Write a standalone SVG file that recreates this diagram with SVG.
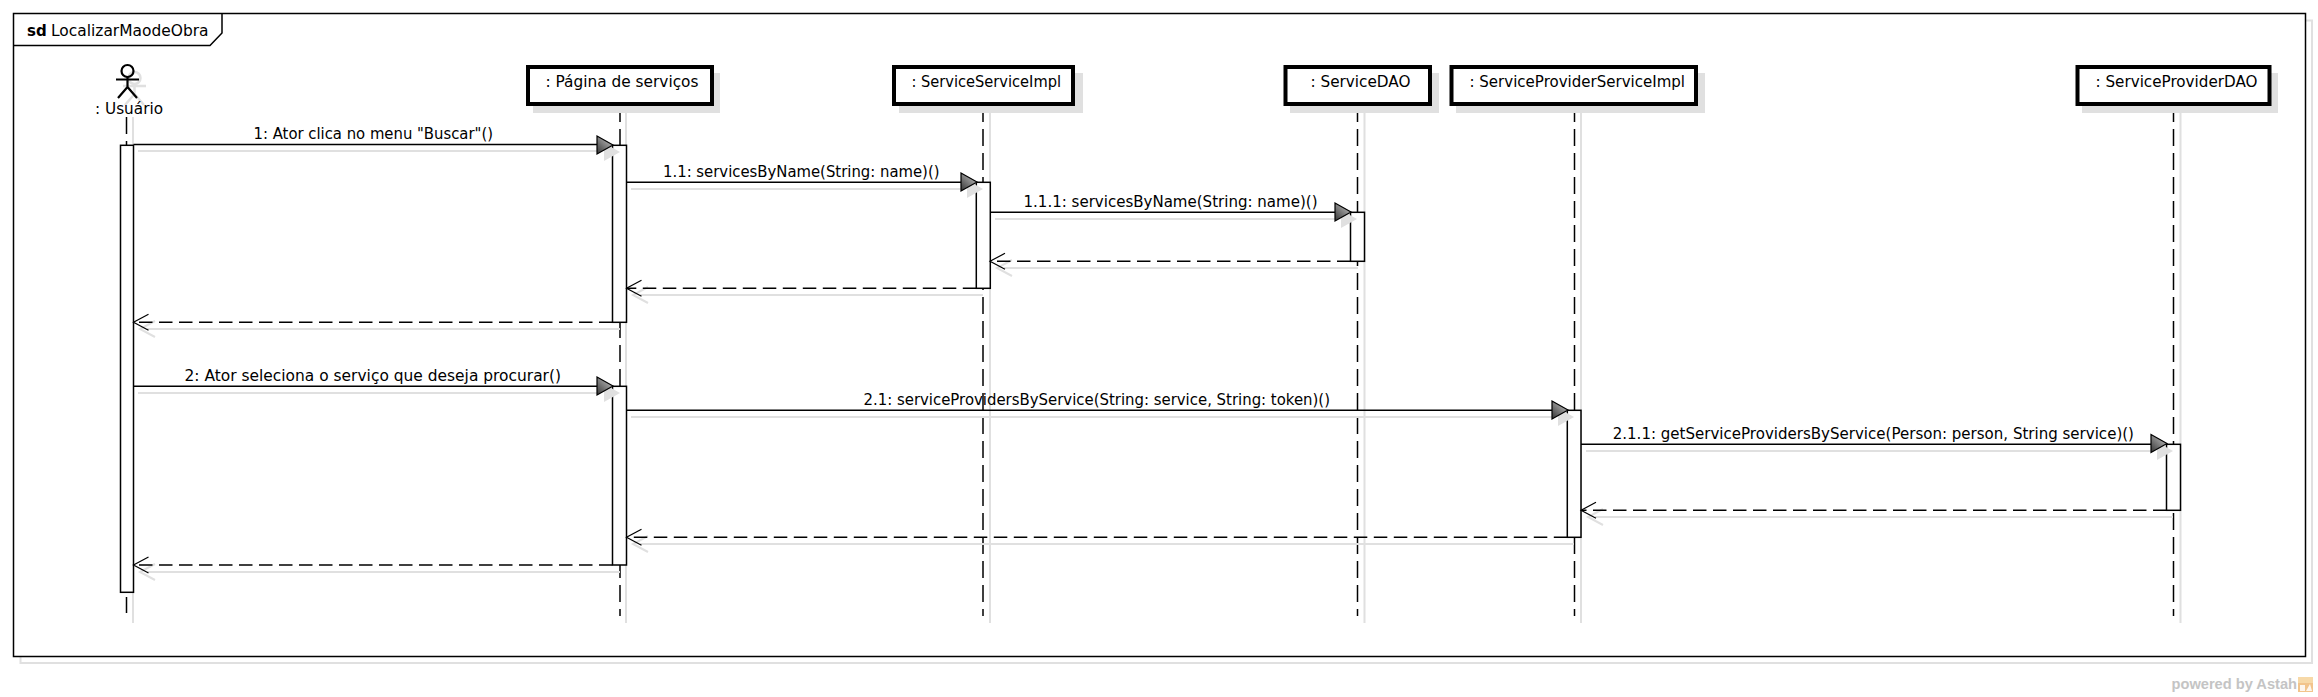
<svg xmlns="http://www.w3.org/2000/svg" width="2318" height="697" viewBox="0 0 2318 697">
<style>
text{font-family:"DejaVu Sans","Liberation Sans",sans-serif;font-size:15px;fill:#000}
.f{fill:#fff;stroke:#000;stroke-width:1.5}
.s{fill:none;stroke:#e0e0e0;stroke-width:2}
.sf{fill:#e0e0e0;stroke:none}
.n{fill:#fff;stroke:#000;stroke-width:4}
.ll{fill:none;stroke:#000;stroke-width:1.5;stroke-dasharray:17 7}
.m{fill:none;stroke:#000;stroke-width:1.5}
.r{fill:none;stroke:#000;stroke-width:1.5;stroke-dasharray:13.5 6.5}
.a{fill:url(#g);stroke:#000;stroke-width:1.2}
.o{fill:none;stroke:#000;stroke-width:1.2}
</style>
<defs><linearGradient id="g" x1="0.8" y1="0.1" x2="0.1" y2="0.9"><stop offset="0" stop-color="#b8b8b8"/><stop offset="1" stop-color="#444"/></linearGradient>
<path id="ta" d="M-16-9 0 0-16 9Z"/><path id="oa" d="M15-8 0 0 15 8"/></defs>
<rect width="2318" height="697" fill="#fff"/>
<g id="frame">
<rect class="s" x="20.500" y="20.500" width="2291.500" height="642.500"/>
<rect x="13.500" y="13.500" width="2292" height="643" fill="#fff" stroke="#000" stroke-width="1.500"/>
<path d="M13.500 45.500H210L222 33V13.500" class="m"/>
<text x="27" y="35.500" font-weight="bold">sd</text>
<text x="51" y="35.500" textLength="157.500" lengthAdjust="spacingAndGlyphs">LocalizarMaodeObra</text>
</g>
<g id="shadows">
<path class="s" d="M133 117V623M626 113V623M990 113V623M1364.500 113V623M1581 113V623M2180.500 113V623"/>
</g>
<g id="lifelines">
<path class="ll" d="M126.500 117V613"/><path class="ll" d="M620 105V616"/><path class="ll" d="M983 105V616"/><path class="ll" d="M1357.500 105V616"/><path class="ll" d="M1574.500 105V616"/><path class="ll" d="M2173.500 105V616"/>
</g>
<g id="node-usuario">
<g fill="none" stroke="#e0e0e0" stroke-width="2.500"><circle cx="134.500" cy="78" r="6"/><path d="M134.500 84V94M123 86H146M134.500 94 125 105M134.500 94 144 105"/></g>
<g fill="none" stroke="#000" stroke-width="2.200"><circle cx="127.500" cy="71" r="6"/><path d="M127.500 77V87M116 79.500H139M127.500 87 118 98M127.500 87 137 98"/></g>
<text x="95" y="114" textLength="68" lengthAdjust="spacingAndGlyphs">: Usuário</text>
<rect class="f" x="120.500" y="145.300" width="13" height="447"/>
</g>
<g id="node-pagina">
<rect class="sf" x="533" y="73" width="187" height="40"/><rect class="n" x="528" y="67" width="184" height="37"/>
<text x="545.500" y="86.500" textLength="153" lengthAdjust="spacingAndGlyphs">: Página de serviços</text>
<rect class="f" x="612.500" y="145.300" width="14" height="177"/><rect class="f" x="612.500" y="386.300" width="14" height="178.700"/>
</g>
<g id="node-serviceserviceimpl">
<rect class="sf" x="899" y="73" width="184" height="40"/><rect class="n" x="894" y="67" width="179" height="37"/>
<text x="911.500" y="86.500" textLength="149.500" lengthAdjust="spacingAndGlyphs">: ServiceServiceImpl</text>
<rect class="f" x="976.300" y="182.300" width="14" height="106"/>
</g>
<g id="node-servicedao">
<rect class="sf" x="1290" y="73" width="149" height="40"/><rect class="n" x="1285.500" y="67" width="144.500" height="37"/>
<text x="1310.500" y="86.500" textLength="100" lengthAdjust="spacingAndGlyphs">: ServiceDAO</text>
<rect class="f" x="1350.500" y="212.300" width="14" height="49"/>
</g>
<g id="node-serviceproviderserviceimpl">
<rect class="sf" x="1456" y="73" width="249" height="40"/><rect class="n" x="1451.500" y="67" width="244.500" height="37"/>
<text x="1469.500" y="86.500" textLength="215.500" lengthAdjust="spacingAndGlyphs">: ServiceProviderServiceImpl</text>
<rect class="f" x="1567.300" y="410.300" width="13.700" height="127"/>
</g>
<g id="node-serviceproviderdao">
<rect class="sf" x="2082" y="73" width="196" height="40"/><rect class="n" x="2077.500" y="67" width="192" height="37"/>
<text x="2095.500" y="86.500" textLength="162" lengthAdjust="spacingAndGlyphs">: ServiceProviderDAO</text>
<rect class="f" x="2166.500" y="444.300" width="14" height="66"/>
</g>
<g id="connectors">
<g class="s"><path d="M138 151H597M631 189H961M995 219H1336M631 417H1552M1586 451H2152M1004 268H1358M640 295H983M147 329H620M147 572H620M640 544H1574M1595 517H2173M138 393H597"/>
<use href="#oa" x="997" y="268"/><use href="#oa" x="633" y="295"/><use href="#oa" x="140" y="329"/><use href="#oa" x="1588" y="517"/><use href="#oa" x="633" y="544"/><use href="#oa" x="140" y="572"/></g>
<g class="sf"><use href="#ta" x="620" y="152"/><use href="#ta" x="983" y="189"/><use href="#ta" x="1357" y="219"/><use href="#ta" x="620" y="393"/><use href="#ta" x="1574" y="417"/><use href="#ta" x="2173" y="451"/></g>
<path class="m" d="M133.500 144.500H597"/><use href="#ta" class="a" x="613" y="145"/>
<path class="m" d="M626.500 182.300H961"/><use href="#ta" class="a" x="977" y="182"/>
<path class="m" d="M990.500 212.300H1336"/><use href="#ta" class="a" x="1351" y="212"/>
<path class="m" d="M133.500 386.300H597"/><use href="#ta" class="a" x="613" y="386"/>
<path class="m" d="M626.500 410.300H1552"/><use href="#ta" class="a" x="1568" y="410"/>
<path class="m" d="M1581 444.300H2152"/><use href="#ta" class="a" x="2167" y="443.500"/>
<path class="r" d="M1350.500 261.300H991"/><use href="#oa" class="o" x="990" y="261.300"/>
<path class="r" d="M976.300 288.300H627"/><use href="#oa" class="o" x="626.500" y="288.300"/>
<path class="r" d="M612.500 322.300H134"/><use href="#oa" class="o" x="133.500" y="322.300"/>
<path class="r" d="M2166.500 510.300H1582"/><use href="#oa" class="o" x="1581" y="510.300"/>
<path class="r" d="M1567.300 537.300H627"/><use href="#oa" class="o" x="626.500" y="537.300"/>
<path class="r" d="M612.500 565H134"/><use href="#oa" class="o" x="133.500" y="565"/>
<text x="253.500" y="138.500" textLength="239.500" lengthAdjust="spacingAndGlyphs">1: Ator clica no menu "Buscar"()</text>
<text x="663" y="176.500" textLength="276.500" lengthAdjust="spacingAndGlyphs">1.1: servicesByName(String: name)()</text>
<text x="1023.500" y="206.500" textLength="294" lengthAdjust="spacingAndGlyphs">1.1.1: servicesByName(String: name)()</text>
<text x="184.500" y="381" textLength="376.500" lengthAdjust="spacingAndGlyphs">2: Ator seleciona o serviço que deseja procurar()</text>
<text x="863.500" y="405" textLength="466.500" lengthAdjust="spacingAndGlyphs">2.1: serviceProvidersByService(String: service, String: token)()</text>
<text x="1612.700" y="439" textLength="521.300" lengthAdjust="spacingAndGlyphs">2.1.1: getServiceProvidersByService(Person: person, String service)()</text>
</g>
<g id="watermark">
<text x="2171.500" y="689" textLength="125.500" lengthAdjust="spacingAndGlyphs" style="font-family:'Liberation Sans',sans-serif;font-weight:bold;font-size:15px;fill:#c4c4c4">powered by Astah</text>
<rect x="2298" y="677" width="15" height="15" fill="#f2c48c"/>
<rect x="2298" y="677" width="15" height="6" fill="#f7d9a8"/>
<path d="M2300 691V685H2305V691ZM2306 691 2310 684 2312 691" fill="#fff" opacity=".85"/>
</g>
</svg>
